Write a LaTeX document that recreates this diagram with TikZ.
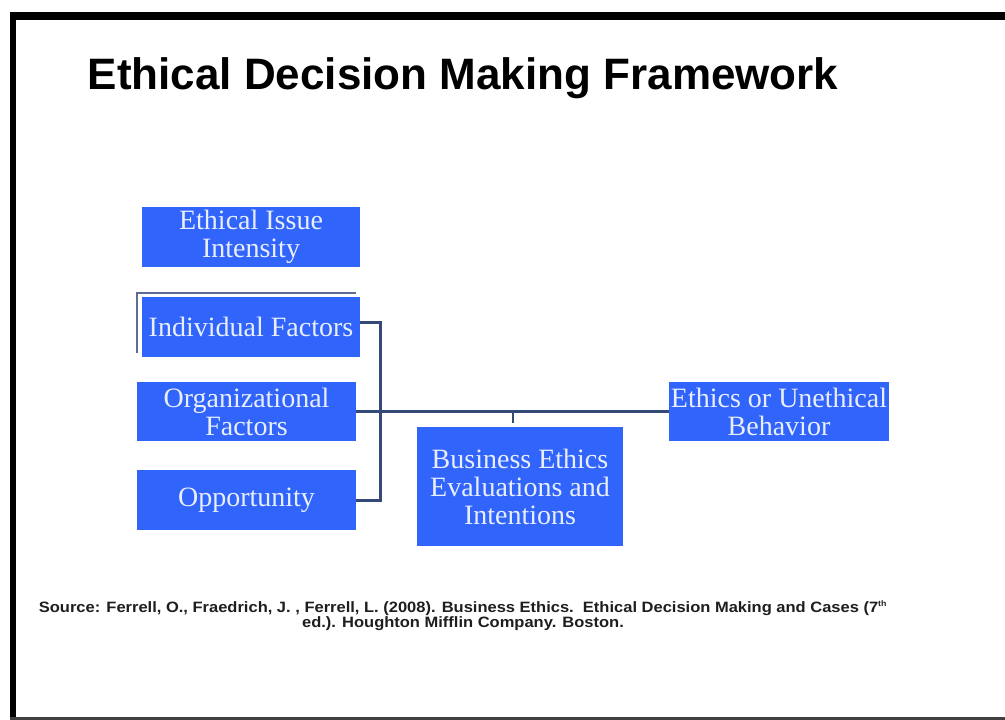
\documentclass[tikz,border=0pt]{standalone}
\usepackage{fontspec}
\setmainfont{Liberation Serif}
\newfontfamily\arialf{Liberation Sans}
\definecolor{boxblue}{RGB}{48,100,250}
\definecolor{boxtext}{RGB}{232,238,255}
\definecolor{connblue}{RGB}{52,72,122}
\definecolor{srcgray}{RGB}{30,30,30}
\newcommand\boxfont{\fontsize{28}{28}\selectfont}
\newcommand\titlefont{\arialf\bfseries\fontsize{44}{50}\selectfont}
\newcommand\srcfont{\arialf\bfseries\fontsize{15}{16}\selectfont}
\newcommand\srcstretch[1]{\scalebox{1.10}[1]{#1}}
\tikzset{
  box/.style={fill=boxblue, text=boxtext, inner sep=0pt, align=center, font=\boxfont},
  conn/.style={draw=connblue, line width=3pt},
  srctext/.style={anchor=base, font=\srcfont, text=srcgray, inner sep=0pt}
}
\begin{document}
\begin{tikzpicture}[x=1pt,y=-1pt]
\useasboundingbox (0,0) rectangle (1005,720);
\fill[white] (0,0) rectangle (1005,720);
% frame
\fill[black] (10,12) rectangle (1005,20);
\fill[black] (10,12) rectangle (16,720);
\fill[black!75] (10,717) rectangle (1005,719.5);
% title
\node[anchor=base, font=\titlefont, inner sep=0pt] (title) at (463,89) {Ethical Decision Making Framework};
% boxes
\node[box, minimum width=218pt, minimum height=60pt] (eii) at (251,237) {Ethical Issue\\Intensity};
\draw[draw=connblue!80, line width=1.3pt] (137,353) -- (137,293) -- (356,293);
\node[box, minimum width=218pt, minimum height=60pt] (ind) at (251,327) {Individual Factors};
\node[box, minimum width=219pt, minimum height=59pt] (org) at (246.5,411.5) {Organizational\\Factors};
\node[box, minimum width=219pt, minimum height=60pt] (opp) at (246.5,500) {Opportunity};
\node[box, minimum width=206pt, minimum height=119pt] (bee) at (520,486.5) {Business Ethics\\Evaluations and\\Intentions};
\node[box, minimum width=220pt, minimum height=59pt] (eub) at (779,411.5) {Ethics or Unethical\\Behavior};
% connectors
\draw[conn] ([yshift=5pt]ind.east) -- ++(20,0) |- (opp.east);
\draw[conn] (org.east) -- (eub.west);
\draw[conn, line width=2pt] ([xshift=-7pt,yshift=4pt]bee.north) -- ([xshift=-7pt]bee.north |- org.east);
% source
\node[srctext] (src1) at (463,612) {\srcstretch{Source: Ferrell, O., Fraedrich, J. , Ferrell, L. (2008). Business Ethics.\ \ Ethical Decision Making and Cases (7\textsuperscript{\fontsize{8}{8}\selectfont th}}};
\node[srctext] (src2) at (463,627) {\srcstretch{ed.). Houghton Mifflin Company. Boston.}};
\end{tikzpicture}
\end{document}
